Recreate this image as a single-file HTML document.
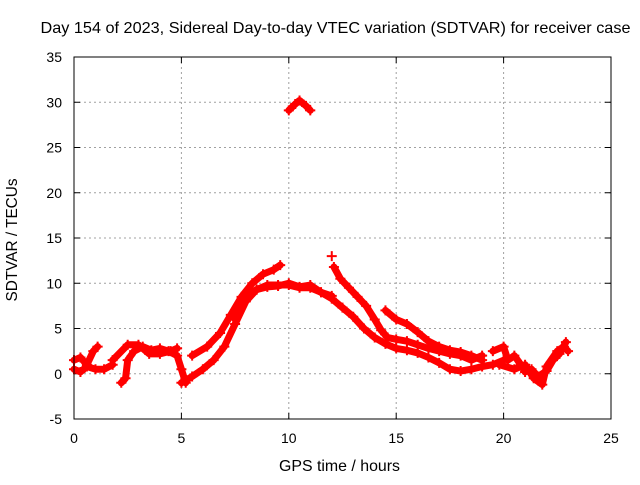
<!DOCTYPE html>
<html><head><meta charset="utf-8"><style>
body{margin:0;background:#fff}
svg{font-family:"Liberation Sans",sans-serif;font-size:14px}
.big{font-size:16px}
</style></head><body>
<svg id="c" width="640" height="480">
<rect width="640" height="480" fill="#fff"/>
<text class="big" x="335.5" y="33" text-anchor="middle" textLength="590" lengthAdjust="spacingAndGlyphs">Day 154 of 2023, Sidereal Day-to-day VTEC variation (SDTVAR) for receiver case</text>
<text class="big" x="339.5" y="471" text-anchor="middle" textLength="121" lengthAdjust="spacingAndGlyphs">GPS time / hours</text>
<text class="big" transform="translate(17,240) rotate(-90)" text-anchor="middle" textLength="123" lengthAdjust="spacingAndGlyphs">SDTVAR / TECUs</text>
<g id="grid"></g><g id="ticks"></g><g id="data"></g>
<rect x="74" y="57" width="537" height="362" fill="none" stroke="#000"/>
</svg>
<script>
const xTicks=[0,5,10,15,20,25];
const yTicks=[-5,0,5,10,15,20,25,30,35];
const t1=[[0,1.5],[0.3,1.8],[0.6,1.0],[0.9,2.5],[1.1,3.0]];
const t1b=[[0,0.5],[0.3,0.2],[0.6,0.8],[1.0,0.5],[1.4,0.5],[1.8,1.0]];
const t2=[[2.2,-1],[2.4,-0.5],[2.5,1.5],[2.8,2.5],[3.2,3.0],[3.6,2.6],[4.0,2.8],[4.4,2.5],[4.8,2.0],[5.0,0.5],[5.2,-1.0]];
const t3=[[1.8,1.5],[2.5,3.2],[3.0,3.2],[3.5,2.2],[4.0,2.2],[4.5,2.5],[4.8,2.8]];
const t4=[[5.0,-1],[5.5,-0.3],[6.0,0.5],[6.5,1.5],[7,3],[7.5,5.5],[8,8],[8.5,9.3],[9,9.8],[9.5,9.8],[10,9.8],[10.5,9.5],[11,9.5],[11.5,9.0],[12,8.3],[12.5,7.3],[13,6.3],[13.5,5],[14,4],[14.5,3.3],[15,2.8],[15.5,2.6],[16,2.3],[16.5,1.8],[17,1.2],[17.5,0.5],[18,0.3],[18.5,0.5],[19,0.8],[19.5,1.0],[20,1.5]];
const t5=[[5.5,2.0],[6.2,3.0],[6.8,4.5],[7.3,6.5],[7.8,8.5],[8.3,10],[8.8,11],[9.3,11.5],[9.6,12]];
const t6=[[7.5,6],[8,8.5],[8.5,9.3],[9,9.6],[9.5,9.7],[10,10],[10.5,9.6],[11,9.8],[11.5,9.0],[12,8.6]];
const t7=[[12.1,11.8],[12.4,10.5],[12.8,9.5],[13.2,8.5],[13.6,7.5],[14,6],[14.3,4.8],[14.6,4.0],[15,3.8],[15.5,3.6],[16,3.2],[16.5,2.8],[17,2.5],[17.5,2.2],[18,2.0],[18.5,1.5],[19,2.0]];
const t8=[[14.5,7],[15,6],[15.5,5.5],[16,4.6],[16.5,3.6],[17,3.0],[17.5,2.6],[18,2.4],[18.5,2.0],[19,1.5]];
const t9=[[19.5,2.5],[20,3.0],[20.2,1.5],[20.5,2.0],[20.8,1.0],[21,0.2],[21.3,0.5],[21.6,-0.3],[22,0.3],[22.3,1.5],[22.6,2.2],[22.9,3.5]];
const t10=[[19.8,1.0],[20.5,0.5],[21,1.0],[21.4,-0.5],[21.8,-1.2],[22,0.8],[22.5,2.5],[22.8,3.0],[23,2.5]];
const outlier=[[10,29.1],[10.3,29.8],[10.5,30.2],[10.8,29.6],[11,29.1]];
const single=[[12,13]];
const series=[t1,t1b,t2,t3,t4,t5,t6,t7,t8,t9,t10,outlier,single];
const NS="http://www.w3.org/2000/svg";
const X=v=>74+v*537/25, Y=v=>419-(v+5)*362/40;
function mk(tag,attrs,parent){const e=document.createElementNS(NS,tag);for(const k in attrs)e.setAttribute(k,attrs[k]);parent.appendChild(e);return e;}
const grid=document.getElementById('grid'),ticks=document.getElementById('ticks'),data=document.getElementById('data');
xTicks.forEach(t=>{
 if(t>0&&t<25){const g=mk('line',{x1:X(t),x2:X(t),y1:57,y2:419,stroke:'#a0a0a0','stroke-dasharray':'2,3'},grid);
 
 }
 mk('line',{x1:X(t),x2:X(t),y1:419,y2:413,stroke:'#000'},ticks);
 mk('line',{x1:X(t),x2:X(t),y1:57,y2:63,stroke:'#000'},ticks);
 const l=mk('text',{x:X(t),y:443,'text-anchor':'middle'},ticks);l.textContent=t;
 
 
});
yTicks.forEach(t=>{
 if(t>-5&&t<35){const g=mk('line',{x1:74,x2:611,y1:Y(t),y2:Y(t),stroke:'#a0a0a0','stroke-dasharray':'2,3'},grid);
 
 }
 mk('line',{x1:74,x2:80,y1:Y(t),y2:Y(t),stroke:'#000'},ticks);
 mk('line',{x1:611,x2:605,y1:Y(t),y2:Y(t),stroke:'#000'},ticks);
 const l=mk('text',{x:62,y:Y(t)+5,'text-anchor':'end'},ticks);l.textContent=t;
 
 
});
series.forEach(s=>{
 if(s.length>1){const p=mk('polyline',{points:s.map(d=>X(d[0])+','+Y(d[1])).join(' '),fill:'none',stroke:'#ff0000','stroke-width':7,'stroke-linejoin':'round','stroke-linecap':'round'},data);
 
 }
 s.forEach(d=>{const x=X(d[0]),y=Y(d[1]);
  const m=mk('path',{d:`M${x-5},${y}H${x+5}M${x},${y-5}V${y+5}`,stroke:'#ff0000','stroke-width':2},data);
  
  });
});
</script>
</body></html>
